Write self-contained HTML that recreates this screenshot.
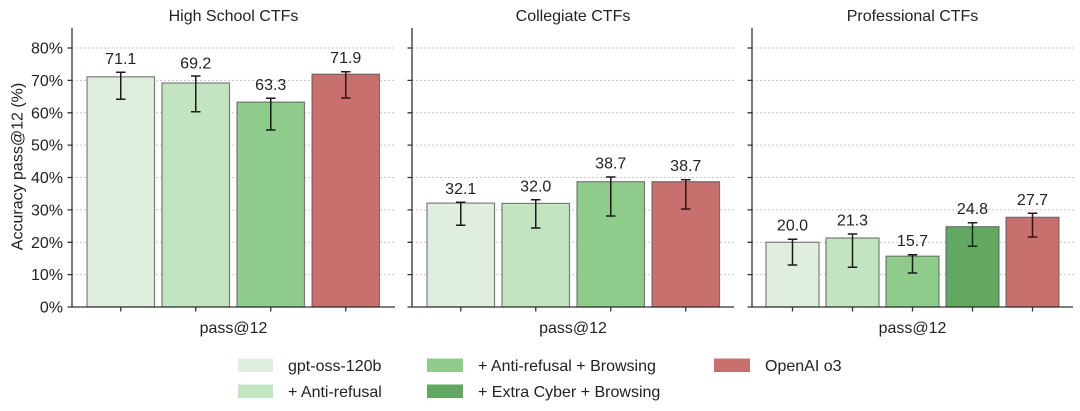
<!DOCTYPE html>
<html><head><meta charset="utf-8"><style>
html,body{margin:0;padding:0;background:#fff;}
svg{display:block;}
text{font-family:"Liberation Sans","DejaVu Sans",sans-serif;fill:#222;}
</style></head><body>
<svg width="1080" height="411" viewBox="0 0 1080 411" xmlns="http://www.w3.org/2000/svg">
<rect width="1080" height="411" fill="#fff"/>
<!-- gridlines -->
<g stroke="#c8c8c8" stroke-width="1" stroke-dasharray="2,2">
  <g id="g1">
  <line x1="72" x2="395" y1="274.6" y2="274.6"/><line x1="72" x2="395" y1="242.3" y2="242.3"/>
  <line x1="72" x2="395" y1="209.9" y2="209.9"/><line x1="72" x2="395" y1="177.5" y2="177.5"/>
  <line x1="72" x2="395" y1="145.1" y2="145.1"/><line x1="72" x2="395" y1="112.8" y2="112.8"/>
  <line x1="72" x2="395" y1="80.4" y2="80.4"/><line x1="72" x2="395" y1="48" y2="48"/>
  </g>
  <use href="#g1" transform="translate(340,0)"/>
  <use href="#g1" transform="translate(680,0)"/>
</g>
<!-- bars panel 1 -->
<g stroke="#555" stroke-opacity="0.75" stroke-width="1.2">
  <rect x="87" y="76.8" width="67.5" height="230.2" fill="#e0eedf"/>
  <rect x="162" y="83.0" width="67.5" height="224.0" fill="#c2e4c0"/>
  <rect x="237" y="102.1" width="67.5" height="204.9" fill="#8fcb8b"/>
  <rect x="312" y="74.2" width="67.5" height="232.8" fill="#c8706e"/>
  <!-- panel 2 -->
  <rect x="427" y="203.1" width="67.5" height="103.9" fill="#e0eedf"/>
  <rect x="502" y="203.4" width="67.5" height="103.6" fill="#c2e4c0"/>
  <rect x="577" y="181.7" width="67.5" height="125.3" fill="#8fcb8b"/>
  <rect x="652" y="181.7" width="67.5" height="125.3" fill="#c8706e"/>
  <!-- panel 3 -->
  <rect x="766" y="242.3" width="53" height="64.7" fill="#e0eedf"/>
  <rect x="826" y="238.0" width="53" height="69.0" fill="#c2e4c0"/>
  <rect x="886" y="256.2" width="53" height="50.8" fill="#8fcb8b"/>
  <rect x="946" y="226.7" width="53" height="80.3" fill="#62a862"/>
  <rect x="1006" y="217.3" width="53" height="89.7" fill="#c8706e"/>
</g>
<!-- error bars -->
<g stroke="#1a1a1a" stroke-width="1.5" fill="none">
  <path d="M120.75 72.3V99.3M116 72.3h9.5M116 99.3h9.5"/>
  <path d="M195.75 76V111.7M191 76h9.5M191 111.7h9.5"/>
  <path d="M270.75 98.3V130M266 98.3h9.5M266 130h9.5"/>
  <path d="M345.75 71.7V98M341 71.7h9.5M341 98h9.5" stroke="#3a1010"/>
  <path d="M460.75 202.3V225.3M456 202.3h9.5M456 225.3h9.5"/>
  <path d="M535.75 199.8V228M531 199.8h9.5M531 228h9.5"/>
  <path d="M610.75 177V216M606 177h9.5M606 216h9.5"/>
  <path d="M685.75 179.7V209M681 179.7h9.5M681 209h9.5" stroke="#3a1010"/>
  <path d="M792.5 239.3V265M787.75 239.3h9.5M787.75 265h9.5"/>
  <path d="M852.5 234V267.3M847.75 234h9.5M847.75 267.3h9.5"/>
  <path d="M912.5 254.7V273M907.75 254.7h9.5M907.75 273h9.5"/>
  <path d="M972.5 222.7V246.3M967.75 222.7h9.5M967.75 246.3h9.5" stroke="#0f2a0f"/>
  <path d="M1032.5 213.3V237M1027.75 213.3h9.5M1027.75 237h9.5" stroke="#3a1010"/>
</g>
<!-- value labels -->
<g font-size="16" text-anchor="middle">
  <text x="120.75" y="64">71.1</text>
  <text x="195.75" y="68.5">69.2</text>
  <text x="270.75" y="90">63.3</text>
  <text x="345.75" y="63">71.9</text>
  <text x="460.75" y="194">32.1</text>
  <text x="535.75" y="191.5">32.0</text>
  <text x="610.75" y="168.5">38.7</text>
  <text x="685.75" y="171">38.7</text>
  <text x="792.5" y="230.5">20.0</text>
  <text x="852.5" y="225.5">21.3</text>
  <text x="912.5" y="246">15.7</text>
  <text x="972.5" y="214">24.8</text>
  <text x="1032.5" y="205">27.7</text>
</g>
<!-- axes -->
<g stroke="#333" stroke-width="1.3" fill="none">
  <path d="M72 28V307H395"/>
  <path d="M412 28V307H734"/>
  <path d="M752 28V307H1073"/>
  <g id="yt">
  <path d="M67.5 307h4.5M67.5 274.6h4.5M67.5 242.3h4.5M67.5 209.9h4.5M67.5 177.5h4.5M67.5 145.1h4.5M67.5 112.8h4.5M67.5 80.4h4.5M67.5 48h4.5"/>
  </g>
  <use href="#yt" transform="translate(340,0)"/>
  <use href="#yt" transform="translate(680,0)"/>
  <path d="M120.75 307v4.5M195.75 307v4.5M270.75 307v4.5M345.75 307v4.5"/>
  <path d="M460.75 307v4.5M535.75 307v4.5M610.75 307v4.5M685.75 307v4.5"/>
  <path d="M792.5 307v4.5M852.5 307v4.5M912.5 307v4.5M972.5 307v4.5M1032.5 307v4.5"/>
</g>
<!-- y tick labels -->
<g font-size="16" text-anchor="end">
  <text x="63" y="312.5">0%</text>
  <text x="63" y="280.1">10%</text>
  <text x="63" y="247.8">20%</text>
  <text x="63" y="215.4">30%</text>
  <text x="63" y="183">40%</text>
  <text x="63" y="150.6">50%</text>
  <text x="63" y="118.3">60%</text>
  <text x="63" y="85.9">70%</text>
  <text x="63" y="53.5">80%</text>
</g>
<text font-size="16" text-anchor="middle" transform="translate(22.5,166.5) rotate(-90)">Accuracy pass@12 (%)</text>
<!-- titles -->
<g font-size="16" text-anchor="middle">
  <text x="233.5" y="21">High School CTFs</text>
  <text x="573" y="21">Collegiate CTFs</text>
  <text x="912.5" y="21">Professional CTFs</text>
  <text x="233.5" y="333">pass@12</text>
  <text x="573" y="333">pass@12</text>
  <text x="912.5" y="333">pass@12</text>
</g>
<!-- legend -->
<g>
  <rect x="238" y="358.5" width="35" height="13.5" fill="#e0eedf"/>
  <rect x="238" y="384.5" width="35" height="13.5" fill="#c2e4c0"/>
  <rect x="427" y="358.5" width="36" height="13.5" fill="#8fcb8b"/>
  <rect x="427" y="384.5" width="36" height="13.5" fill="#62a862"/>
  <rect x="714" y="358.5" width="36" height="13.5" fill="#c8706e"/>
</g>
<g font-size="16">
  <text x="288" y="371">gpt-oss-120b</text>
  <text x="288" y="397">+ Anti-refusal</text>
  <text x="478" y="371">+ Anti-refusal + Browsing</text>
  <text x="478" y="397">+ Extra Cyber + Browsing</text>
  <text x="765" y="371">OpenAI o3</text>
</g>
</svg>
</body></html>
